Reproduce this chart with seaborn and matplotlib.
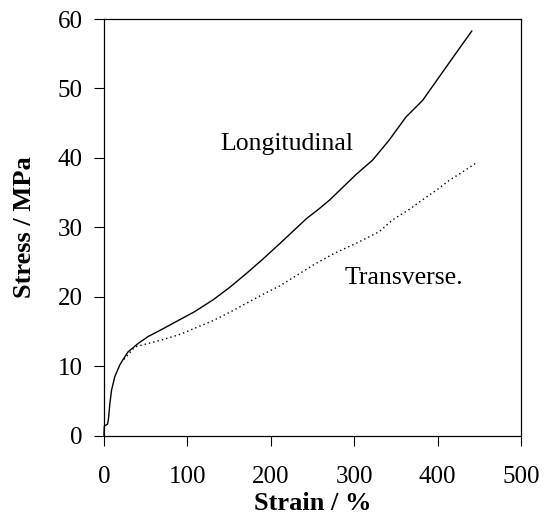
import numpy as np
import pandas as pd
import matplotlib
matplotlib.use("Agg")
import matplotlib.pyplot as plt
import seaborn as sns

# Longitudinal stress-strain curve
long_strain = [0, 0.5, 4.4, 5.5, 7.2, 9.2, 13, 19, 23, 29, 41, 53, 69, 89, 109,
               131, 151, 171, 191, 211, 227, 243, 257, 271, 283, 302, 322,
               342, 362, 382, 402, 422, 441]
long_stress = [0, 1.4, 1.7, 2.5, 4.7, 6.6, 8.5, 10.2, 11.0, 12.1, 13.3, 14.3,
               15.3, 16.6, 17.9, 19.6, 21.4, 23.4, 25.5, 27.7, 29.5, 31.3,
               32.6, 34.0, 35.4, 37.6, 39.7, 42.6, 45.9, 48.3, 51.7, 55.1, 58.3]

# Transverse curve (dotted), splits off the longitudinal one near 24 %
trans_strain = [24, 37, 53, 69, 91, 109, 131, 151, 171, 191, 211, 231, 251,
                275, 302, 317, 330, 346, 366, 382, 400, 414, 430, 445]
trans_stress = [11.0, 12.8, 13.3, 13.8, 14.6, 15.5, 16.6, 17.8, 19.1, 20.4,
                21.6, 23.1, 24.6, 26.2, 27.7, 28.6, 29.4, 31.1, 32.6, 34.0,
                35.5, 36.8, 38.0, 39.2]

x_ticks = [0, 100, 200, 300, 400, 500]
y_ticks = [0, 10, 20, 30, 40, 50, 60]

sns.set_theme(style="ticks")
plt.rcParams['font.family'] = ['Liberation Serif', 'DejaVu Serif']
plt.rcParams['text.color'] = 'black'
plt.rcParams['axes.labelcolor'] = 'black'

fig = plt.figure(figsize=(5.44, 5.14), dpi=100)
ax = fig.add_axes([0.191, 0.152, 0.767, 0.811])

long_df = pd.DataFrame({'strain': long_strain, 'stress': long_stress})
trans_df = pd.DataFrame({'strain': trans_strain, 'stress': trans_stress})

sns.lineplot(data=long_df, x='strain', y='stress', ax=ax, color='black',
             linewidth=1.0, sort=False, clip_on=False)
sns.lineplot(data=trans_df, x='strain', y='stress', ax=ax, color='black',
             linewidth=1.0, linestyle=(0, (1, 2.2)), sort=False)

ax.set_xlim(0, 500)
ax.set_ylim(0, 60)
ax.set_xticks(x_ticks)
ax.set_yticks(y_ticks)
ax.tick_params(axis='both', direction='out', length=7.5, width=0.8,
               labelsize=18, color='black', labelcolor='black')
ax.tick_params(axis='x', pad=14)
ax.tick_params(axis='y', pad=8)
for s in ax.spines.values():
    s.set_color('black')
    s.set_linewidth(0.9)

ax.set_xlabel('Strain / %', fontsize=19, fontweight='bold')
ax.set_ylabel('Stress / MPa', fontsize=19, fontweight='bold')
ax.xaxis.set_label_coords(0.5, -0.135)
ax.yaxis.set_label_coords(-0.163, 0.5)

ax.text(219, 42, 'Longitudinal', fontsize=18.5, ha='center', va='center')
ax.text(360, 22.7, 'Transverse.', fontsize=18.5, ha='center', va='center')

fig.savefig('out.png', dpi=100, facecolor='white')
